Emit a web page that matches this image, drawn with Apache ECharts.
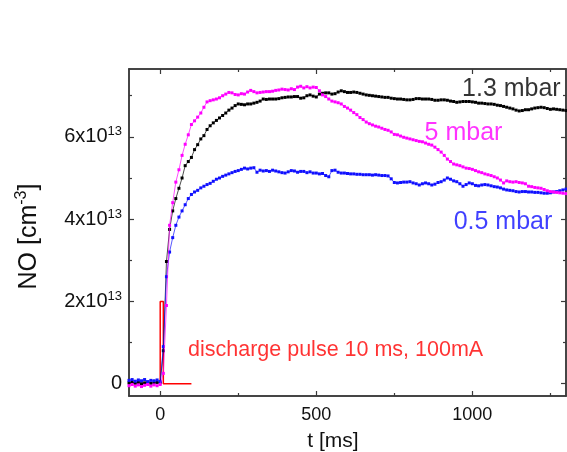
<!DOCTYPE html>
<html><head><meta charset="utf-8">
<script src="https://cdn.jsdelivr.net/npm/echarts@6/dist/echarts.min.js"></script>
<style>html,body{margin:0;padding:0;background:#fff}#c{width:567px;height:452px}</style>
</head><body><div id="c"></div>
<script>
const tMs = [-100,-90,-80,-70,-60,-50,-40,-30,-20,-10,0,
10,20,30,40,50,60,70,80,90,100,
110,120,130,140,150,160,170,180,190,200,
210,220,230,240,250,260,270,280,290,300,
310,320,330,340,350,360,370,380,390,400,
410,420,430,440,450,460,470,480,490,500,
510,520,530,540,550,560,570,580,590,600,
610,620,630,640,650,660,670,680,690,700,
710,720,730,740,750,760,770,780,790,800,
810,820,830,840,850,860,870,880,890,900,
910,920,930,940,950,960,970,980,990,1000,
1010,1020,1030,1040,1050,1060,1070,1080,1090,1100,
1110,1120,1130,1140,1150,1160,1170,1180,1190,1200,
1210,1220,1230,1240,1250,1260,1270,1280,1290,1300];
// NO density in units of 1e13 cm^-3
const no13mbar = [0.02,0.04,0.01,0.03,0.00,0.02,0.03,0.01,0.02,0.03,0.02,
0.8,2.97,3.75,4.2,4.5,4.75,5.0,5.3,5.4,5.5,
5.69,5.81,5.95,6.03,6.18,6.27,6.34,6.40,6.46,6.52,
6.58,6.65,6.70,6.76,6.80,6.79,6.78,6.80,6.80,6.82,
6.84,6.87,6.92,6.91,6.92,6.92,6.92,6.93,6.95,6.96,
6.97,6.97,6.98,6.98,6.94,6.95,7.00,7.02,6.99,6.97,
7.04,7.06,7.07,7.07,7.04,7.05,7.09,7.12,7.10,7.08,
7.08,7.09,7.08,7.06,7.04,7.02,7.01,7.00,6.99,6.98,
6.97,6.96,6.96,6.94,6.93,6.92,6.92,6.91,6.90,6.90,
6.91,6.93,6.93,6.92,6.92,6.92,6.91,6.89,6.89,6.90,
6.90,6.89,6.87,6.86,6.84,6.85,6.86,6.86,6.86,6.85,
6.84,6.82,6.82,6.81,6.80,6.80,6.79,6.77,6.76,6.74,
6.72,6.70,6.68,6.65,6.63,6.64,6.66,6.66,6.68,6.70,
6.71,6.72,6.71,6.69,6.67,6.68,6.67,6.66,6.65,6.64];
const no05mbar = [0.08,0.10,0.06,0.09,0.07,0.10,0.05,0.08,0.07,0.09,0.05,
0.9,2.6,3.2,3.55,3.85,4.05,4.2,4.35,4.5,4.6,
4.66,4.70,4.76,4.80,4.84,4.87,4.92,4.97,5.00,5.04,
5.07,5.10,5.13,5.16,5.18,5.21,5.24,5.22,5.24,5.25,
5.14,5.19,5.17,5.18,5.16,5.19,5.17,5.15,5.13,5.12,
5.15,5.18,5.17,5.14,5.16,5.16,5.13,5.15,5.12,5.12,
5.10,5.11,5.06,5.03,5.18,5.19,5.14,5.12,5.12,5.11,
5.10,5.10,5.09,5.09,5.08,5.08,5.08,5.07,5.08,5.07,
5.06,5.06,5.05,4.98,4.89,4.88,4.89,4.90,4.90,4.91,
4.88,4.86,4.83,4.86,4.88,4.86,4.83,4.85,4.89,4.91,
4.95,5.00,4.97,4.93,4.91,4.86,4.80,4.84,4.88,4.86,
4.82,4.81,4.83,4.84,4.83,4.81,4.79,4.78,4.76,4.73,
4.71,4.70,4.69,4.67,4.66,4.67,4.67,4.66,4.66,4.65,
4.65,4.64,4.63,4.63,4.64,4.66,4.67,4.69,4.71,4.73];
const no5mbar = [-0.05,-0.02,-0.06,-0.03,-0.07,-0.04,-0.02,-0.06,-0.03,-0.05,-0.02,
0.25,1.9,3.85,4.4,4.9,5.2,5.55,5.82,6.05,6.3,
6.39,6.48,6.58,6.72,6.85,6.88,6.90,6.92,6.95,7.00,
7.04,7.08,7.07,7.03,7.02,7.05,7.04,7.09,7.13,7.10,
7.07,7.08,7.09,7.10,7.10,7.11,7.13,7.14,7.16,7.15,
7.14,7.17,7.15,7.21,7.23,7.19,7.22,7.19,7.21,7.20,
7.12,7.02,6.98,6.92,6.87,6.85,6.83,6.80,6.74,6.70,
6.65,6.59,6.54,6.47,6.42,6.36,6.32,6.29,6.26,6.24,
6.21,6.18,6.16,6.12,6.06,6.05,6.02,5.99,5.97,5.95,
5.93,5.91,5.89,5.88,5.85,5.82,5.80,5.75,5.69,5.63,
5.55,5.46,5.40,5.34,5.32,5.30,5.27,5.24,5.23,5.21,
5.18,5.15,5.13,5.10,5.08,5.06,5.03,5.00,4.95,4.88,
4.93,4.91,4.90,4.91,4.89,4.88,4.86,4.80,4.79,4.77,
4.76,4.75,4.72,4.69,4.67,4.66,4.65,4.64,4.63,4.62];
const pulseT = [0,0,10,10,100];
const pulseV = [0,2,2,0,0];
const xMajor = [0,500,1000];
const xMinor = [250,750,1250];
const yMajor = [0,2,4,6];
const yMinor = [1,3,5,7];
const annoText = ['1.3 mbar','5 mbar','0.5 mbar','discharge pulse 10 ms, 100mA'];
const annoT = [1283,847,940,89];
const annoV = [7.17,6.09,3.93,0.82];

const FONT = 'Liberation Sans, Arial, sans-serif';
const AX = '#3a3a3a';
const XMIN=-100, XMAX=1300, YMIN=-0.3, YMAX=7.65;

function xAx(pos, ticks, len, opts) {
  return Object.assign({
    type:'value', position:pos, min:XMIN, max:XMAX,
    axisLine:{show:true, onZero:false, lineStyle:{color:AX, width:1.5}},
    axisTick:{show:true, inside:true, length:len, customValues:ticks, lineStyle:{color:AX, width:1.2}},
    axisLabel:{show:false},
    splitLine:{show:false}
  }, opts||{});
}
function yAx(pos, ticks, len, opts) {
  return Object.assign({
    type:'value', position:pos, min:YMIN, max:YMAX,
    axisLine:{show:true, onZero:false, lineStyle:{color:AX, width:1.5}},
    axisTick:{show:true, inside:true, length:len, customValues:ticks, lineStyle:{color:AX, width:1.2}},
    axisLabel:{show:false},
    splitLine:{show:false}
  }, opts||{});
}

const chart = echarts.init(document.getElementById('c'), null, {renderer:'canvas'});
const pair = (arr) => tMs.map((t,i)=>[t, arr[i]]);
const colors = {black:'#000000', blue:'#1010ff', mag:'#ff00ff', red:'#ff0000'};

chart.setOption({
  animation:false,
  backgroundColor:'#fff',
  grid:{left:129, right:1, top:69, bottom:56, containLabel:false, outerBoundsMode:'none'},
  xAxis:[
    xAx('bottom', xMajor, 5, {
      axisLabel:{show:true, customValues:xMajor, margin:10, fontSize:18, color:'#111', fontFamily:FONT,
        formatter:(v)=>String(v)},
      name:'t [ms]', nameLocation:'middle', nameGap:35,
      nameTextStyle:{fontSize:21, color:'#111', fontFamily:FONT, padding:[0,29,0,0]}
    }),
    xAx('bottom', xMinor, 3),
    xAx('top', xMajor, 5),
    xAx('top', xMinor, 3)
  ],
  yAxis:[
    yAx('left', yMajor, 5, {
      axisLabel:{show:true, customValues:yMajor, margin:7, fontSize:20, color:'#111', fontFamily:FONT,
        formatter:(v)=> v===0 ? '0' : v+'x10{s|13}',
        rich:{s:{fontSize:13, color:'#111', fontFamily:FONT, padding:[0,0,10,0]}}},
      name:'NO [cm{s|-3}]', nameLocation:'middle', nameGap:85, nameRotate:90,
      nameTextStyle:{fontSize:25, color:'#111', fontFamily:FONT, padding:[0,8,0,0],
        rich:{s:{fontSize:16, color:'#111', fontFamily:FONT, padding:[0,0,14,0]}}}
    }),
    yAx('left', yMinor, 3),
    yAx('right', yMajor, 5),
    yAx('right', yMinor, 3)
  ],
  series:[
    {type:'line', name:'pulse', data:pulseT.map((t,i)=>[t,pulseV[i]]), symbol:'none',
     lineStyle:{color:colors.red, width:1.5}, z:2},
    {type:'line', name:'1.3 mbar', data:pair(no13mbar), symbol:'rect', symbolSize:3,
     itemStyle:{color:colors.black}, lineStyle:{color:colors.black, width:0.7}, z:3},
    {type:'line', name:'0.5 mbar', data:pair(no05mbar), symbol:'rect', symbolSize:3,
     itemStyle:{color:colors.blue}, lineStyle:{color:colors.blue, width:0.7}, z:4},
    {type:'line', name:'5 mbar', data:pair(no5mbar), symbol:'rect', symbolSize:3,
     itemStyle:{color:colors.mag}, lineStyle:{color:colors.mag, width:0.7}, z:5},
    {type:'scatter', name:'labels', symbolSize:0, silent:true, z:10,
     data:annoText.map((s,i)=>({
       value:[annoT[i], annoV[i]],
       label:{show:true, formatter:s, position:[0,0],
         align: i===0 ? 'right' : 'left', verticalAlign:'middle',
         fontSize: i===3 ? 21.5 : 25, fontFamily:FONT,
         color: [colors.black, colors.mag, colors.blue, colors.red][i]}
     }))}
  ]
});
</script></body></html>
